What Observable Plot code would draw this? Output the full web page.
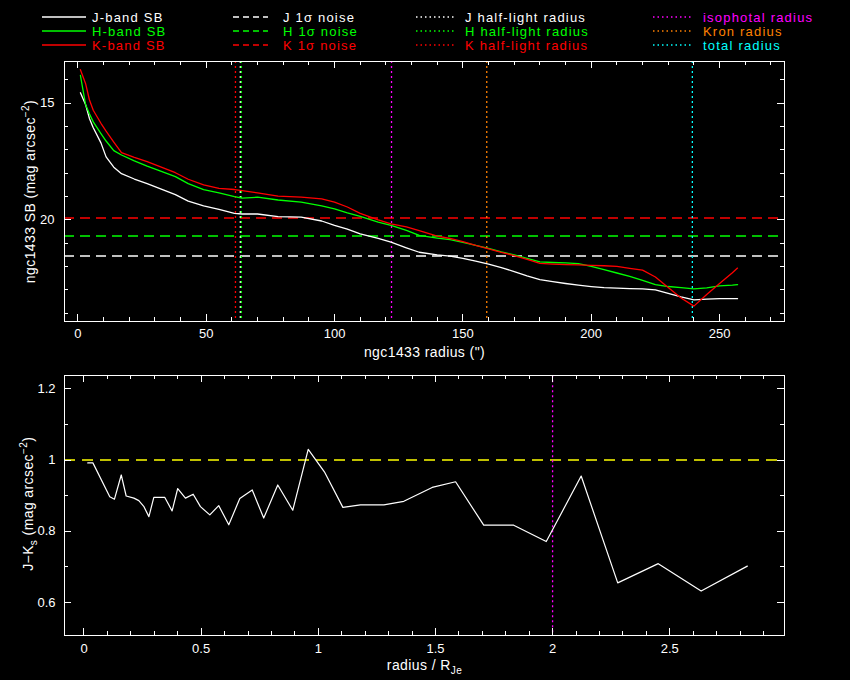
<!DOCTYPE html>
<html><head><meta charset="utf-8">
<script src="https://cdn.jsdelivr.net/npm/d3@7"></script>
<script src="https://cdn.jsdelivr.net/npm/@observablehq/plot@0.6"></script>
<style>
html,body{margin:0;padding:0;background:#000;}
#wrap{position:relative;width:850px;height:680px;background:#000;overflow:hidden;font-family:"Liberation Sans",Arial,sans-serif;}
#legend{position:absolute;left:0;top:0;}
#top{position:absolute;left:0;top:55px;}
#bot{position:absolute;left:0;top:370px;}
</style></head><body>
<div id="wrap"><svg id="legend" width="850" height="55"></svg><div id="top"></div><div id="bot"></div></div>
<script>
// ---------- data: top panel (surface brightness profiles) ----------
const radius = [1,3,4.5,6,9,11,14,17,22,27,32,38,43,49,55,61,64,70,78,87,95,100,105,110,117,122,128,133,140,145,150,155,160,165,170,175,180,185,190,195,200,205,210,215,220,225,230,235,240,245,250,255,257];
const sbJ = [14.55,15.05,15.65,16.05,16.7,17.3,17.74,18.02,18.25,18.45,18.66,18.92,19.2,19.4,19.55,19.72,19.75,19.75,19.86,19.88,20.05,20.24,20.4,20.6,20.8,20.96,21.2,21.39,21.5,21.56,21.65,21.77,21.9,22.05,22.22,22.4,22.56,22.65,22.73,22.8,22.86,22.91,22.93,22.95,22.96,23.0,23.15,23.3,23.43,23.4,23.38,23.38,23.38];
const sbH = [13.81,15.05,15.45,15.8,16.3,16.62,17.03,17.22,17.47,17.7,17.9,18.15,18.45,18.7,18.84,19.0,19.07,19.03,19.15,19.24,19.4,19.53,19.7,19.85,20.1,20.24,20.45,20.67,20.78,20.85,20.97,21.1,21.22,21.37,21.5,21.65,21.8,21.83,21.85,21.88,22.0,22.14,22.28,22.42,22.6,22.78,22.86,22.91,22.96,22.92,22.83,22.8,22.78];
const sbK = [13.56,14.15,14.85,15.3,15.86,16.2,16.67,17.12,17.32,17.5,17.72,17.98,18.26,18.5,18.65,18.7,18.75,18.84,18.98,19.03,19.1,19.24,19.45,19.72,20.0,20.17,20.3,20.46,20.7,20.8,20.93,21.1,21.25,21.4,21.53,21.7,21.87,21.9,21.92,21.93,21.95,21.97,22.0,22.08,22.16,22.45,22.9,23.35,23.7,23.2,22.73,22.27,22.07];

const bands = ["J","H","K"];
const bandColors = ["#ffffff","#00ff00","#ff0000"];
const noiseSB = [21.55, 20.69, 19.92];        // 1-sigma noise levels
const halfLightR = [63.3, 63.7, 61.4];        // half-light radii (")
const apertureNames = ["isophotal radius","Kron radius","total radius"];
const apertureR = [122.2, 159.3, 239.4];
const apertureColors = ["#ff00ff","#ff8000","#00ffff"];

const topXMajor = [0,50,100,150,200,250];
const topXMinor = d3.range(0,271,10).filter(v => v % 50 !== 0);
const topYMajor = [15,20];
const topYMinor = [14,16,17,18,19,21,22,23,24];

// ---------- data: bottom panel (J-Ks colour profile) ----------
const ratioR = [0.016,0.038,0.110,0.130,0.159,0.180,0.213,0.234,0.255,0.277,0.298,0.345,0.376,0.400,0.433,0.466,0.497,0.537,0.575,0.618,0.665,0.718,0.767,0.827,0.891,0.957,1.026,1.105,1.180,1.280,1.365,1.486,1.586,1.706,1.834,1.973,2.122,2.278,2.451,2.634,2.831];
const colourJK = [0.992,0.992,0.897,0.890,0.958,0.899,0.893,0.886,0.870,0.841,0.895,0.895,0.857,0.920,0.893,0.904,0.869,0.846,0.872,0.818,0.892,0.916,0.837,0.930,0.859,1.030,0.967,0.867,0.874,0.874,0.884,0.923,0.939,0.817,0.817,0.771,0.955,0.655,0.709,0.632,0.702];
const colourRef = [1.0];
const bottomMarkerR = [2.0];

const botXMajor = [0,0.5,1,1.5,2,2.5];
const botXMinor = d3.range(0,30).map(i => i/10).filter(v => Math.abs(v*2 - Math.round(v*2)) > 1e-6);
const botYMajor = [0.6,0.8,1.0,1.2];
const botYMinor = [0.7,0.9,1.1];

// ---------- tables ----------
const profileRows = bands.flatMap((b, bi) => radius.map((r, i) => ({band: b, r, sb: [sbJ, sbH, sbK][bi][i], c: bandColors[bi]})));
const noiseRows = bands.map((b, i) => ({band: b, v: noiseSB[i], c: bandColors[i]}));
const halfRows = bands.map((b, i) => ({band: b, v: halfLightR[i], c: bandColors[i]}));
const apRows = apertureNames.map((n, i) => ({name: n, v: apertureR[i], c: apertureColors[i]}));
const colourRows = ratioR.map((x, i) => ({x, y: colourJK[i]}));

const FONT = '"Liberation Sans", Arial, sans-serif';
const FW = 720, FH = 260; // frame size in px
const MAJ = 7, MIN = 4;
const fmt = d => `${d}`;

function tickMarks(xMaj, xMin, yMaj, yMin) {
  const o = {stroke: "white", shapeRendering: "crispEdges"};
  return [
    Plot.ruleX(xMaj, {...o, insetTop: FH - MAJ}),
    Plot.ruleX(xMaj, {...o, insetBottom: FH - MAJ}),
    Plot.ruleX(xMin, {...o, insetTop: FH - MIN}),
    Plot.ruleX(xMin, {...o, insetBottom: FH - MIN}),
    Plot.ruleY(yMaj, {...o, insetRight: FW - MAJ}),
    Plot.ruleY(yMaj, {...o, insetLeft: FW - MAJ}),
    Plot.ruleY(yMin, {...o, insetRight: FW - MIN}),
    Plot.ruleY(yMin, {...o, insetLeft: FW - MIN})
  ];
}

const XLAB_TOP = "ngc1433 radius (\")";
const YLAB_TOP = "ngc1433 SB (mag arcsec-2)";
const XLAB_BOT = "radius / RJe";
const YLAB_BOT = "J-Ks (mag arcsec-2)";

const topPlot = Plot.plot({
  width: 850, height: 305,
  marginLeft: 64, marginRight: 66, marginTop: 6, marginBottom: 39,
  style: {background: "black", color: "white", fontFamily: FONT, fontSize: "13px"},
  x: {domain: [-5.2, 275.3]},
  y: {domain: [13.21, 24.36], reverse: true},
  color: {type: "identity"},
  marks: [
    Plot.ruleY(noiseRows, {y: "v", stroke: "c", strokeDasharray: "10,6", strokeWidth: 1.5}),
    Plot.ruleX(halfRows, {x: "v", stroke: "c", strokeDasharray: "2,3", strokeWidth: 1.3}),
    Plot.ruleX(apRows, {x: "v", stroke: "c", strokeDasharray: "2,3", strokeWidth: 1.3}),
    Plot.line(profileRows, {x: "r", y: "sb", z: "band", stroke: "c", strokeWidth: 1.3}),
    Plot.frame({stroke: "white", shapeRendering: "crispEdges"}),
    ...tickMarks(topXMajor, topXMinor, topYMajor, topYMinor),
    Plot.axisX(topXMajor, {tickSize: 0, tickPadding: 7, label: null, fontSize: 13, tickFormat: fmt}),
    Plot.axisY(topYMajor, {tickSize: 0, tickPadding: 10, label: null, fontSize: 13, tickFormat: fmt}),
    Plot.text([XLAB_TOP], {text: d => d, frameAnchor: "bottom", textAnchor: "middle", lineAnchor: "middle", dy: 31, fill: "white", fontSize: 14}),
    Plot.text([YLAB_TOP], {text: d => d, frameAnchor: "left", textAnchor: "middle", lineAnchor: "middle", dx: -34, rotate: -90, fill: "white", fontSize: 14})
  ]
});

const botPlot = Plot.plot({
  width: 850, height: 310,
  marginLeft: 64, marginRight: 66, marginTop: 5.3, marginBottom: 44.7,
  style: {background: "black", color: "white", fontFamily: FONT, fontSize: "13px"},
  x: {domain: [-0.0832, 2.9898]},
  y: {domain: [0.5063, 1.2366]},
  marks: [
    Plot.ruleY(colourRef, {stroke: "#ffff00", strokeDasharray: "11,7", strokeWidth: 1.5}),
    Plot.ruleX(bottomMarkerR, {stroke: "#ff00ff", strokeDasharray: "2,3", strokeWidth: 1.3}),
    Plot.line(colourRows, {x: "x", y: "y", stroke: "white", strokeWidth: 1.2}),
    Plot.frame({stroke: "white", shapeRendering: "crispEdges"}),
    ...tickMarks(botXMajor, botXMinor, botYMajor, botYMinor),
    Plot.axisX(botXMajor, {tickSize: 0, tickPadding: 8, label: null, fontSize: 13, tickFormat: fmt}),
    Plot.axisY(botYMajor, {tickSize: 0, tickPadding: 9, label: null, fontSize: 13, tickFormat: fmt}),
    Plot.text([XLAB_BOT], {text: d => d, frameAnchor: "bottom", textAnchor: "middle", lineAnchor: "middle", dy: 30, fill: "white", fontSize: 14}),
    Plot.text([YLAB_BOT], {text: d => d, frameAnchor: "left", textAnchor: "middle", lineAnchor: "middle", dx: -36, dy: -2, rotate: -90, fill: "white", fontSize: 14})
  ]
});

document.getElementById("top").appendChild(topPlot);
document.getElementById("bot").appendChild(botPlot);

// rich text (super/subscripts) for axis titles
function rich(svg, original, parts) {
  const node = Array.from(svg.querySelectorAll("text")).find(t => t.textContent === original);
  if (!node) return;
  const t = d3.select(node);
  t.text(null).attr("letter-spacing", "0.4px");
  let shift = 0;
  parts.forEach(([s, mode]) => {
    const target = mode === "sup" ? -6 : mode === "sub" ? 4 : 0;
    const sp = t.append("tspan").text(s).attr("dy", target - shift);
    if (mode) sp.attr("font-size", 10);
    shift = target;
  });
}
try {
  rich(topPlot, XLAB_TOP, [[XLAB_TOP]]);
  rich(topPlot, YLAB_TOP, [["ngc1433 SB (mag arcsec"], ["\u22122", "sup"], [")"]]);
  rich(botPlot, YLAB_BOT, [["J\u2212K"], ["s", "sub"], [" (mag arcsec"], ["\u22122", "sup"], [")"]]);
  rich(botPlot, XLAB_BOT, [["radius / R"], ["Je", "sub"]]);
} catch (e) { console.error(e); }

// ---------- legend ----------
const legendRowY = [17, 31, 45];
const legendCols = [
  {x0: 42, x1: 86, tx: 92, dash: null, labels: ["J-band SB","H-band SB","K-band SB"], colors: bandColors},
  {x0: 233, x1: 268, tx: 283, dash: "6,4", labels: ["J 1\u03c3 noise","H 1\u03c3 noise","K 1\u03c3 noise"], colors: bandColors},
  {x0: 416, x1: 455, tx: 465, dash: "1.5,3", labels: ["J half-light radius","H half-light radius","K half-light radius"], colors: bandColors},
  {x0: 653, x1: 692, tx: 703, dash: "1.5,3", labels: apertureNames, colors: apertureColors}
];
const lg = d3.select("#legend");
lg.append("rect").attr("width", 850).attr("height", 55).attr("fill", "black");
legendCols.forEach(col => {
  col.labels.forEach((lab, i) => {
    const y = legendRowY[i];
    const ln = lg.append("line").attr("x1", col.x0).attr("x2", col.x1).attr("y1", y).attr("y2", y)
      .attr("stroke", col.colors[i]).attr("stroke-width", 1.6);
    if (col.dash) ln.attr("stroke-dasharray", col.dash);
    lg.append("text").attr("x", col.tx).attr("y", y).attr("dy", "0.35em")
      .attr("fill", col.colors[i]).attr("font-family", FONT).attr("font-size", 13)
      .attr("letter-spacing", "1.2px").text(lab);
  });
});
</script>
</body></html>
